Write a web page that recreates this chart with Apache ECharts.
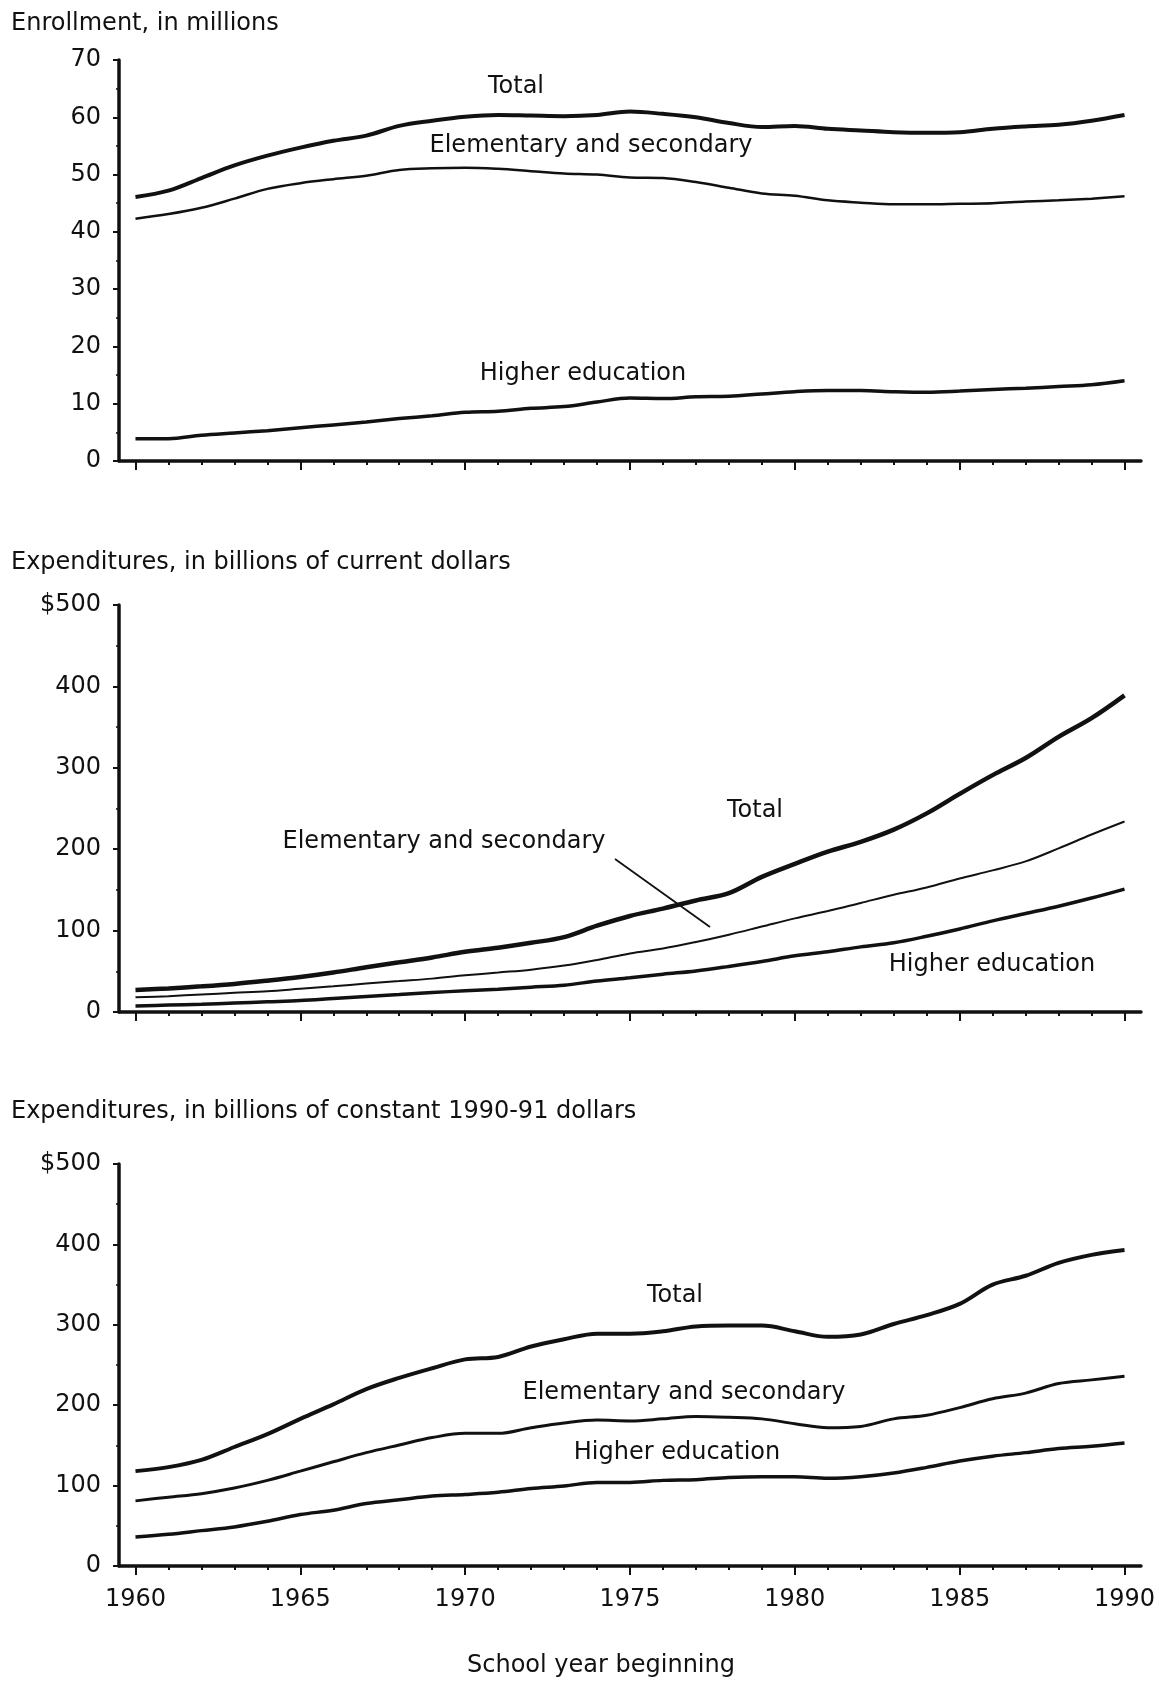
<!DOCTYPE html>
<html>
<head>
<meta charset="utf-8">
<script src="https://cdn.jsdelivr.net/npm/echarts@6/dist/echarts.min.js"></script>
<style>
html,body{margin:0;padding:0;background:#fff;}
#chart{width:1159px;height:1681px;}
</style>
</head>
<body>
<div id="chart"></div>
<script>
// ---- Data ----
const years = ['1960','1961','1962','1963','1964','1965','1966','1967','1968','1969','1970','1971','1972','1973','1974','1975','1976','1977','1978','1979','1980','1981','1982','1983','1984','1985','1986','1987','1988','1989','1990'];

// Enrollment, in millions
const enrollTotal = [46.1,47.2,49.4,51.6,53.3,54.7,55.9,56.8,58.5,59.4,60.1,60.4,60.3,60.2,60.4,61.0,60.6,60.0,59.0,58.3,58.5,58.0,57.7,57.4,57.3,57.4,58.0,58.4,58.7,59.4,60.4];
const enrollElem  = [42.3,43.1,44.2,45.8,47.5,48.5,49.2,49.8,50.8,51.1,51.2,51.0,50.6,50.2,50.0,49.5,49.4,48.7,47.7,46.7,46.3,45.5,45.1,44.8,44.8,44.9,45.0,45.3,45.5,45.8,46.2];
const enrollHigher= [3.9,3.9,4.5,4.9,5.3,5.8,6.3,6.8,7.4,7.9,8.5,8.7,9.2,9.5,10.3,11.0,10.9,11.2,11.3,11.7,12.1,12.3,12.3,12.1,12.0,12.2,12.5,12.7,13.0,13.3,14.0];

// Expenditures, billions of current dollars
const curTotal  = [27,29,31.5,34.5,38.5,43,48.5,55,61,67,74,79,85,92,106,118,127,137,146,166,182,197,209,224,244,268,291,312,338,361,389];
const curElem   = [18,19.5,21.5,23.5,25.5,28.5,31.5,35,38,41,45,48.5,52,57,64,72,78,86,95,105,115,124,134,144,153,164,174,185,201,218,234];
const curHigher = [7.5,8.5,9.5,11,12.5,14,16.5,19,21.5,24,26,28,30.5,33,38,42,46.5,50.5,56,62,69,74,80,85,93,102,112,121,130,140,151];

// Expenditures, billions of constant 1990-91 dollars
const conTotal  = [118,123,132,148,164,183,201,220,234,246,257,260,273,282,289,289,292,298,299,299,292,285,288,301,312,326,350,361,377,387,393];
const conElem   = [81,85.6,90,97,106.5,118,129.6,141,150.5,159.7,165,165,172,178,181.5,180.5,183,186,185,183,177,172,173.6,183,187.5,197,208,215,227,231.5,236];
const conHigher = [36,39.4,44,48.6,55.6,64,69.4,77.8,82.4,87,89,91.7,96.3,99.5,104,104,106.5,107.4,110,111,111,109,111,115.7,122.7,130.6,136.6,141,146,149,153];

// Tick labels
const enrollTicks = ['0','10','20','30','40','50','60','70'];
const dollarTicks = ['0','100','200','300','400','$500'];
const xMajorLabels = ['1960','1965','1970','1975','1980','1985','1990'];

// ---- Chart ----
const FONT = '"DejaVu Sans", "Liberation Sans", Arial, sans-serif';
const INK = '#111';
const chart = echarts.init(document.getElementById('chart'), null, {renderer:'canvas'});

const grids = [
  {left:119, width:1022, top:60,  height:401},
  {left:119, width:1022, top:605, height:407},
  {left:119, width:1022, top:1164, height:402}
];

function xAxesFor(gi, withLabels){
  return [
    { // minor ticks every year + axis line
      type:'category', gridIndex:gi, data:years, boundaryGap:true,
      axisLine:{show:true, lineStyle:{color:INK, width:3.5}},
      axisTick:{show:true, alignWithLabel:true, interval:0, length:4, lineStyle:{color:INK, width:2}},
      axisLabel:{show:false},
      splitLine:{show:false}
    },
    { // major ticks every 5 years (+ labels on bottom chart)
      type:'category', gridIndex:gi, data:years, boundaryGap:true, position:'bottom',
      axisLine:{show:false},
      axisTick:{show:true, alignWithLabel:true, length:9,
        interval:function(i){return i%5===0;}, lineStyle:{color:INK, width:2}},
      axisLabel:{show:withLabels, margin:22, fontSize:24, fontFamily:FONT, color:INK,
        interval:function(i, v){return xMajorLabels.indexOf(v) >= 0;}},
      splitLine:{show:false}
    }
  ];
}

function yAxisFor(gi, max, interval, ticks){
  return {
    type:'value', gridIndex:gi, min:0, max:max, interval:interval,
    axisLine:{show:true, onZero:false, lineStyle:{color:INK, width:3.5}},
    axisTick:{show:true, length:6, lineStyle:{color:INK, width:2}},
    minorTick:{show:true, splitNumber:2, length:3, lineStyle:{color:INK, width:1.5}},
    splitLine:{show:false},
    axisLabel:{margin:18, fontSize:24, fontFamily:FONT, color:INK,
      formatter:function(v){ return ticks[Math.round(v/interval)]; }}
  };
}

function line(xi, yi, data, w){
  return {type:'line', xAxisIndex:xi, yAxisIndex:yi, data:data, smooth:0.35,
    symbol:'none', lineStyle:{color:INK, width:w}, silent:true, z:3};
}

function txt(x, y, s, align){
  return {type:'text', x:x, y:y, silent:true,
    style:{text:s, font:'24px ' + FONT, fill:INK, align:align||'center', verticalAlign:'middle',
      textAlign:align||'center', textVerticalAlign:'middle'}};
}

const option = {
  backgroundColor:'#fff',
  animation:false,
  grid:grids,
  xAxis:[].concat(xAxesFor(0,false), xAxesFor(1,false), xAxesFor(2,true)),
  yAxis:[yAxisFor(0,70,10,enrollTicks), yAxisFor(1,500,100,dollarTicks), yAxisFor(2,500,100,dollarTicks)],
  series:[
    line(0,0,enrollTotal,4), line(0,0,enrollElem,2.5), line(0,0,enrollHigher,3.5),
    line(2,1,curTotal,4.5), line(2,1,curElem,2), line(2,1,curHigher,3.5),
    line(4,2,conTotal,4), line(4,2,conElem,3), line(4,2,conHigher,3.5)
  ],
  graphic:[
    txt(11, 24, 'Enrollment, in millions', 'left'),
    txt(11, 563, 'Expenditures, in billions of current dollars', 'left'),
    txt(11, 1112, 'Expenditures, in billions of constant 1990-91 dollars', 'left'),
    txt(516, 87, 'Total'),
    txt(591, 146, 'Elementary and secondary'),
    txt(583, 374, 'Higher education'),
    txt(755, 811, 'Total'),
    txt(444, 842, 'Elementary and secondary'),
    txt(992, 965, 'Higher education'),
    {type:'line', silent:true, shape:{x1:615, y1:859, x2:710, y2:927}, style:{stroke:INK, lineWidth:1.8}},
    txt(675, 1296, 'Total'),
    txt(684, 1393, 'Elementary and secondary'),
    txt(677, 1453, 'Higher education'),
    txt(601, 1666, 'School year beginning')
  ]
};
chart.setOption(option);
</script>
</body>
</html>
